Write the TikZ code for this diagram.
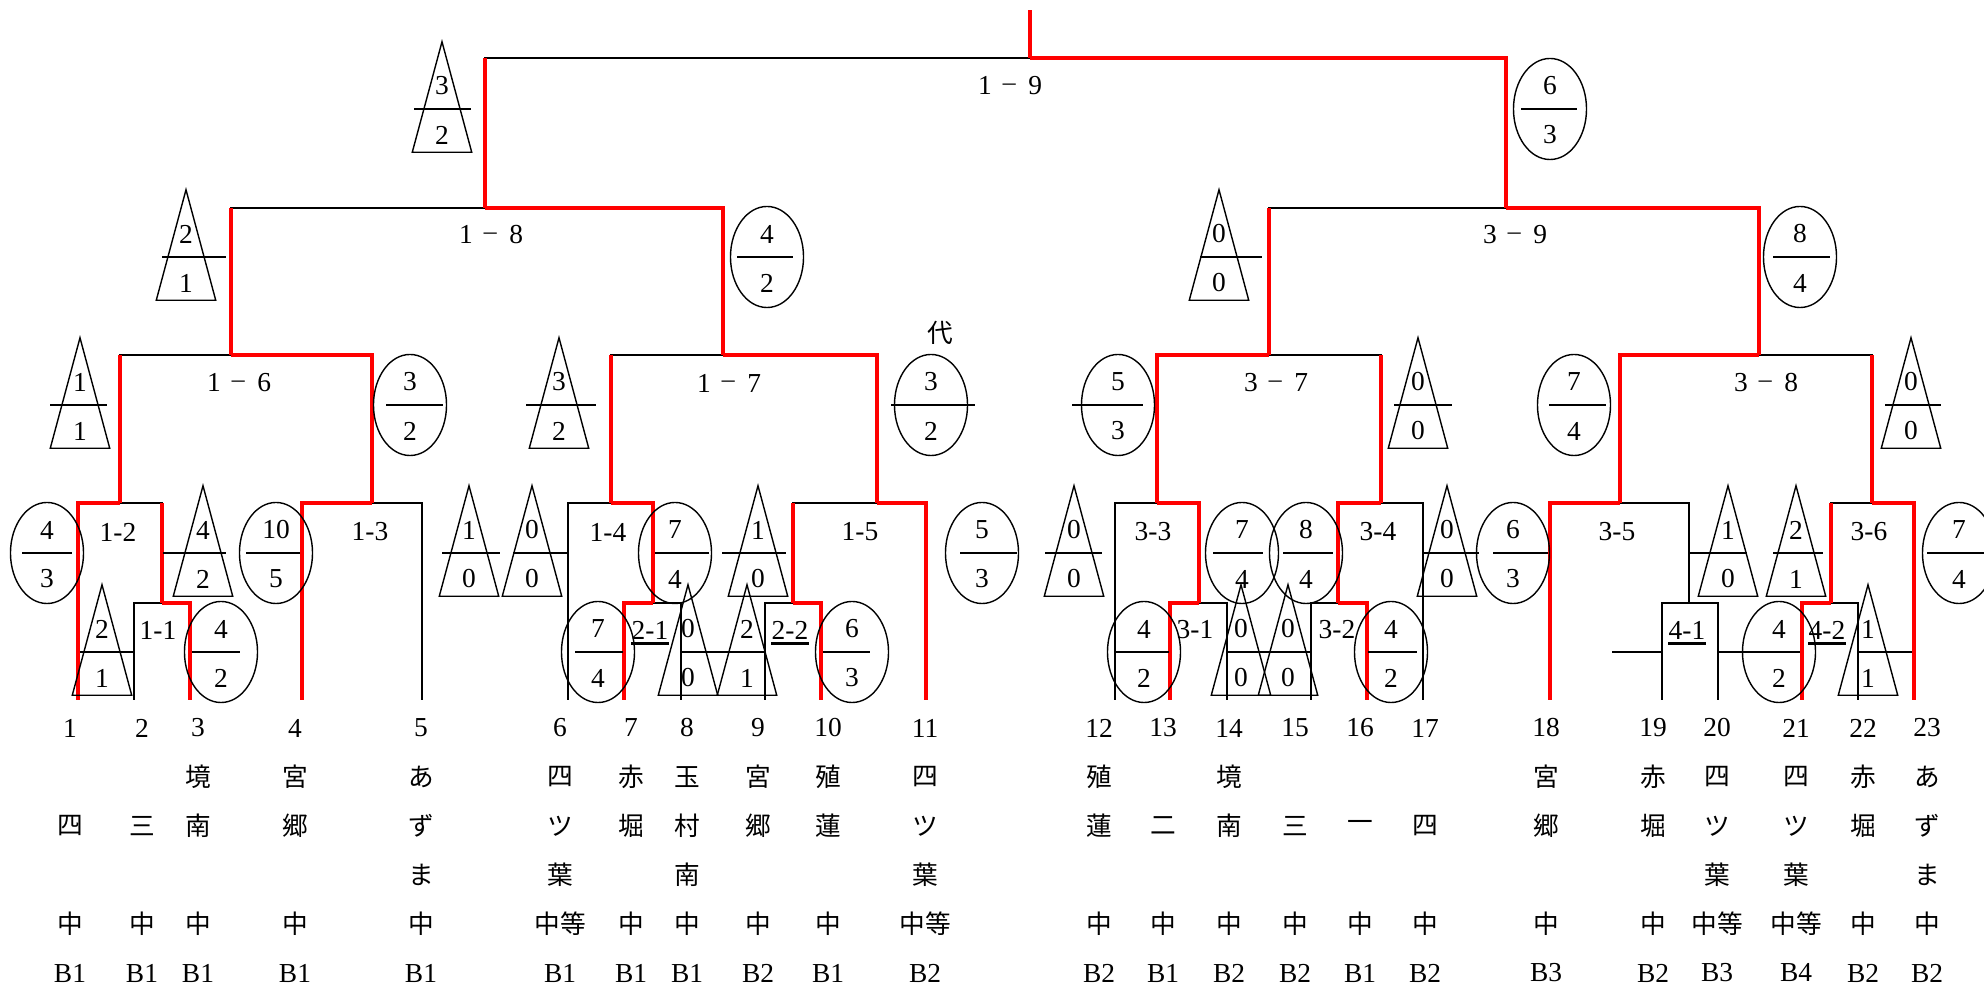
\documentclass[tikz,border=0pt]{standalone}
\usepackage{fontspec}
\setmainfont{Liberation Serif}
\newfontfamily\jpfam{Noto Sans CJK JP}
\usetikzlibrary{shapes.geometric}
\newcommand{\numfont}{\fontsize{7.8}{9}\selectfont}
\newcommand{\jpfont}{\jpfam\fontsize{7.3}{9}\selectfont}
\newcommand{\wdash}{\hspace{2.6pt}\raisebox{0.9pt}{\jpfam\fontsize{5.2}{6}\selectfont －}\hspace{2.6pt}}
\tikzset{
  bk/.style={line width=0.6pt, black},
  win/.style={line width=1pt, red},
  fracline/.style={line width=0.6pt},
  shapeline/.style={line width=0.4pt},
  oval/.style={ellipse, draw, line width=0.4pt, minimum width=0.73cm, minimum height=1.01cm, inner sep=0pt},
  tribox/.style={minimum width=0.58cm, minimum height=1.09cm, inner sep=0pt},
  num/.style={font=\numfont, inner sep=0pt},
  jptext/.style={font=\jpfont, inner sep=0pt},
  ubar/.style={line width=1pt}
}
% triangle score: name, x, line y, line from, line to, upper, lower
\newcommand{\tscore}[7]{%
  \node[tribox] (#1) at (#2,#3-12) {};
  \draw[shapeline] (#1.south west) -- (#1.north) -- (#1.south east) -- cycle;
  \draw[fracline] (#4,#3) -- (#5,#3);
  \node[num] (#1u) at (#2,#3-23) {#6};
  \node[num] (#1d) at (#2,#3+26) {#7};
}
% oval score: same arguments
\newcommand{\escore}[7]{%
  \node[oval] (#1) at (#2,#3) {};
  \draw[fracline] (#4,#3) -- (#5,#3);
  \node[num] (#1u) at (#2,#3-23) {#6};
  \node[num] (#1d) at (#2,#3+26) {#7};
}

\begin{document}
\begin{tikzpicture}[x=0.01cm, y=-0.01cm]
  \useasboundingbox (0,0) rectangle (1984,986);
  \clip (0,0) rectangle (1984,986);

  % leaves
  \foreach \i/\x in {1/78, 2/134, 3/190, 4/302, 5/422, 6/568, 7/624, 8/681, 9/765, 10/821, 11/926,
                     12/1115, 13/1170, 14/1227, 15/1311, 16/1367, 17/1423, 18/1550, 19/1662, 20/1718,
                     21/1802, 22/1858, 23/1914}
    \coordinate (l\i) at (\x,700);

  % matches
  \coordinate (m11) at (162,603);
  \coordinate (m21) at (653,603);
  \coordinate (m22) at (793,603);
  \coordinate (m31) at (1199,603);
  \coordinate (m32) at (1338,603);
  \coordinate (m41) at (1689,603);
  \coordinate (m42) at (1831,603);
  \coordinate (m12) at (120,503);
  \coordinate (m13) at (372,503);
  \coordinate (m14) at (611,503);
  \coordinate (m15) at (877,503);
  \coordinate (m33) at (1157,503);
  \coordinate (m34) at (1381,503);
  \coordinate (m35) at (1620,503);
  \coordinate (m36) at (1872,503);
  \coordinate (m16) at (231,355);
  \coordinate (m17) at (723,355);
  \coordinate (m37) at (1269,355);
  \coordinate (m38) at (1759,355);
  \coordinate (m18) at (485,208);
  \coordinate (m39) at (1506,208);
  \coordinate (m19) at (1030,58);
  \coordinate (top) at (1030,10);

  % bracket
  \draw[bk] (l2) |- (m11) (l3) |- (m11) (l1) |- (m12) (m11) |- (m12)
            (l4) |- (m13) (l5) |- (m13) (l7) |- (m21) (l8) |- (m21)
            (l6) |- (m14) (m21) |- (m14) (l9) |- (m22) (l10) |- (m22)
            (m22) |- (m15) (l11) |- (m15) (m12) |- (m16) (m13) |- (m16)
            (m14) |- (m17) (m15) |- (m17) (m16) |- (m18) (m17) |- (m18)
            (m18) |- (m19) (m39) |- (m19) (m19) -- (top);
  \draw[bk] (l13) |- (m31) (l14) |- (m31) (l12) |- (m33) (m31) |- (m33)
            (l15) |- (m32) (l16) |- (m32) (m32) |- (m34) (l17) |- (m34)
            (l19) |- (m41) (l20) |- (m41) (l18) |- (m35) (m41) |- (m35)
            (l21) |- (m42) (l22) |- (m42) (m42) |- (m36) (l23) |- (m36)
            (m33) |- (m37) (m34) |- (m37) (m35) |- (m38) (m36) |- (m38)
            (m37) |- (m39) (m38) |- (m39);

  % winners
  \draw[win] (m19) -- (top);
  \draw[win] (m39) |- (m19);
  \draw[win] (m18) -- (m18 |- m19);
  \draw[win] (m17) |- (m18);
  \draw[win] (m16) -- (m16 |- m18);
  \draw[win] (m37) -- (m37 |- m39);
  \draw[win] (m38) |- (m39);
  \draw[win] (m13) |- (m16);
  \draw[win] (m12) -- (m12 |- m16);
  \draw[win] (m15) |- (m17);
  \draw[win] (m14) -- (m14 |- m17);
  \draw[win] (m33) |- (m37);
  \draw[win] (m34) -- (m34 |- m37);
  \draw[win] (m35) |- (m38);
  \draw[win] (m36) -- (m36 |- m38);
  \draw[win] (l1) |- (m12);
  \draw[win] (m11) -- (m11 |- m12);
  \draw[win] (l3) |- (m11);
  \draw[win] (l4) |- (m13);
  \draw[win] (m21) |- (m14);
  \draw[win] (l7) |- (m21);
  \draw[win] (m22) -- (m22 |- m15);
  \draw[win] (l10) |- (m22);
  \draw[win] (l11) |- (m15);
  \draw[win] (m31) |- (m33);
  \draw[win] (l13) |- (m31);
  \draw[win] (m32) |- (m34);
  \draw[win] (l16) |- (m32);
  \draw[win] (l18) |- (m35);
  \draw[win] (m42) -- (m42 |- m36);
  \draw[win] (l21) |- (m42);
  \draw[win] (l23) |- (m36);

  % match labels
  \node[num] (n19) at (1010,86) {1\wdash 9};
  \node[num] (n18) at (491,235) {1\wdash 8};
  \node[num] (n39) at (1515,235) {3\wdash 9};
  \node[num] (n16) at (239,383) {1\wdash 6};
  \node[num] (n17) at (729,383) {1\wdash 7};
  \node[num] (n37) at (1276,383) {3\wdash 7};
  \node[num] (n38) at (1766,383) {3\wdash 8};
  \node[num] (n12) at (118,532) {1-2};
  \node[num] (n13) at (370,532) {1-3};
  \node[num] (n14) at (608,532) {1-4};
  \node[num] (n15) at (860,532) {1-5};
  \node[num] (n33) at (1153,532) {3-3};
  \node[num] (n34) at (1378,532) {3-4};
  \node[num] (n35) at (1617,532) {3-5};
  \node[num] (n36) at (1869,532) {3-6};
  \node[num] (n11) at (158,630) {1-1};
  \node[num] (n21) at (650,630) {2-1};
  \node[num] (n22) at (790,630) {2-2};
  \node[num] (n31) at (1195,630) {3-1};
  \node[num] (n32) at (1337,630) {3-2};
  \node[num] (n41) at (1687,630) {4-1};
  \node[num] (n42) at (1827,630) {4-2};
  \foreach \n in {n21, n22, n41, n42}
    \draw[ubar] ([yshift=-1pt]\n.south west) -- ([yshift=-1pt]\n.south east);
  \node[jptext] (dai) at (940,333) {代};

  % scores
  \tscore{s19l}{442}{109}{414}{471}{3}{2}
  \escore{s19r}{1550}{109}{1521}{1577}{6}{3}
  \tscore{s18l}{186}{257}{162}{226}{2}{1}
  \escore{s18r}{767}{257}{737}{793}{4}{2}
  \tscore{s39l}{1219}{257}{1200}{1262}{0}{0}
  \escore{s39r}{1800}{257}{1773}{1830}{8}{4}
  \tscore{s16l}{80}{405}{50}{107}{1}{1}
  \escore{s16r}{410}{405}{386}{443}{3}{2}
  \tscore{s17l}{559}{405}{526}{596}{3}{2}
  \escore{s17r}{931}{405}{891}{975}{3}{2}
  \escore{s37l}{1118}{405}{1072}{1143}{5}{3}
  \tscore{s37r}{1418}{405}{1394}{1452}{0}{0}
  \escore{s38l}{1574}{405}{1549}{1606}{7}{4}
  \tscore{s38r}{1911}{405}{1885}{1941}{0}{0}
  \escore{s12l}{47}{553}{22}{72}{4}{3}
  \tscore{s12r}{203}{553}{163}{226}{4}{2}
  \escore{s13l}{276}{553}{246}{300}{10}{5}
  \tscore{s13r}{469}{553}{442}{500}{1}{0}
  \tscore{s14l}{532}{553}{513}{568}{0}{0}
  \escore{s14r}{675}{553}{655}{709}{7}{4}
  \tscore{s15l}{758}{553}{722}{786}{1}{0}
  \escore{s15r}{982}{553}{960}{1017}{5}{3}
  \tscore{s33l}{1074}{553}{1045}{1102}{0}{0}
  \escore{s33r}{1242}{553}{1213}{1263}{7}{4}
  \escore{s34l}{1306}{553}{1283}{1333}{8}{4}
  \tscore{s34r}{1447}{553}{1423}{1479}{0}{0}
  \escore{s35l}{1513}{553}{1493}{1548}{6}{3}
  \tscore{s35r}{1728}{553}{1689}{1747}{1}{0}
  \tscore{s36l}{1796}{553}{1773}{1823}{2}{1}
  \escore{s36r}{1959}{553}{1927}{1984}{7}{4}
  \tscore{s11l}{102}{652}{80}{134}{2}{1}
  \escore{s11r}{221}{652}{192}{240}{4}{2}
  \escore{s21l}{598}{652}{575}{623}{7}{4}
  \tscore{s21r}{688}{652}{681}{765}{0}{0}
  \tscore{s22l}{747}{652}{681}{765}{2}{1}
  \escore{s22r}{852}{652}{823}{870}{6}{3}
  \escore{s31l}{1144}{652}{1116}{1169}{4}{2}
  \tscore{s31r}{1241}{652}{1227}{1311}{0}{0}
  \tscore{s32l}{1288}{652}{1227}{1311}{0}{0}
  \escore{s32r}{1391}{652}{1368}{1417}{4}{2}
  \escore{s42l}{1779}{652}{1718}{1800}{4}{2}
  \tscore{s42r}{1868}{652}{1858}{1912}{1}{1}
  \draw[fracline] (1612,652) -- (1662,652);

  % entries
  \foreach \i/\x/\a/\b/\c/\d/\e in {
      1/70/{}/四/{}/中/B1, 2/142/{}/三/{}/中/B1, 3/198/境/南/{}/中/B1,
      4/295/宮/郷/{}/中/B1, 5/421/あ/ず/ま/中/B1, 6/560/四/ツ/葉/中等/B1,
      7/631/赤/堀/{}/中/B1, 8/687/玉/村/南/中/B1, 9/758/宮/郷/{}/中/B2,
      10/828/殖/蓮/{}/中/B1, 11/925/四/ツ/葉/中等/B2, 12/1099/殖/蓮/{}/中/B2,
      13/1163/{}/二/{}/中/B1, 14/1229/境/南/{}/中/B2, 15/1295/{}/三/{}/中/B2,
      16/1360/{}/一/{}/中/B1, 17/1425/{}/四/{}/中/B2, 18/1546/宮/郷/{}/中/B3,
      19/1653/赤/堀/{}/中/B2, 20/1717/四/ツ/葉/中等/B3, 21/1796/四/ツ/葉/中等/B4,
      22/1863/赤/堀/{}/中/B2, 23/1927/あ/ず/ま/中/B2} {
    \node[num] (no\i) at (\x,728) {\i};
    \node[jptext] (na\i) at (\x,777) {\a};
    \node[jptext] (nb\i) at (\x,826) {\b};
    \node[jptext] (nc\i) at (\x,875) {\c};
    \node[jptext] (nd\i) at (\x,924) {\d};
    \node[num] (ne\i) at (\x,973) {\e};
  }
\end{tikzpicture}
\end{document}
